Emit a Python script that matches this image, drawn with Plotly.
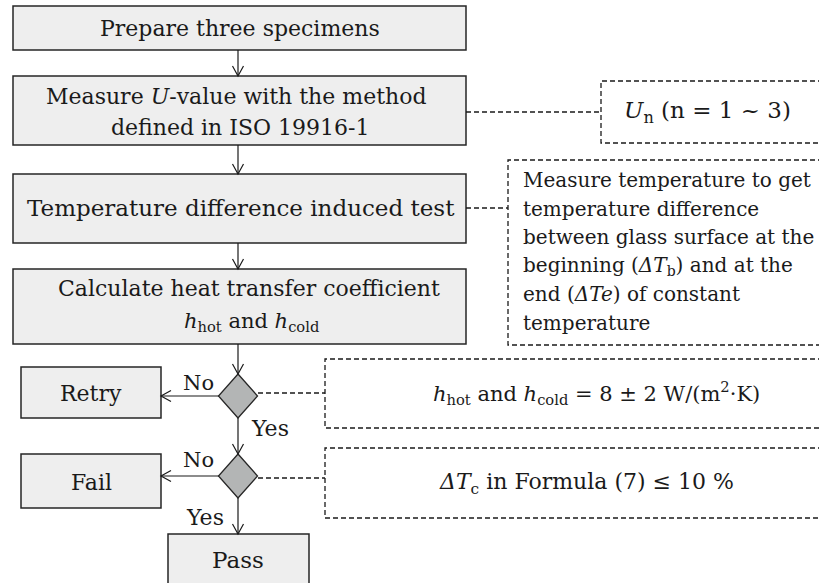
import plotly.graph_objects as go

W, H = 819, 583

# ---- content ----
process_labels = [
    ["Prepare three specimens"],
    ["Measure <i>U</i>-value with the method", "defined in ISO 19916-1"],
    ["Temperature difference induced test"],
    ["Calculate heat transfer coefficient",
     "<i>h</i><sub>hot</sub> and <i>h</i><sub>cold</sub>"],
]
outcome_labels = ["Retry", "Fail", "Pass"]
no_label = "No"
yes_label = "Yes"
note_labels = [
    ["<i>U</i><sub>n</sub> (n = 1 ~ 3)"],
    ["Measure temperature to get",
     "temperature difference",
     "between glass surface at the",
     "beginning (<i>ΔT</i><sub>b</sub>) and at the",
     "end (<i>ΔTe</i>) of constant",
     "temperature"],
    ["<i>h</i><sub>hot</sub> and <i>h</i><sub>cold</sub> = 8 ± 2 W/(m<sup>2</sup>·K)"],
    ["<i>ΔT</i><sub>c</sub> in Formula (7) ≤ 10 %"],
]

# ---- layout geometry (pixels, y downwards) ----
proc_boxes = [(13, 6, 466, 50), (13, 76, 466, 145), (13, 174, 466, 243), (13, 269, 466, 344)]
proc_text_pos = [[(240, 28)], [(236, 96), (240, 127)], [(241, 208)], [(249, 288), (251, 322)]]
proc_sizes = [[22], [22, 22], [23], [22, 21]]
out_boxes = [(21, 367, 161, 418), (21, 454, 161, 508), (168, 534, 309, 600)]
out_text_pos = [(91, 393), (91, 482), (238, 560)]
out_sizes = [22, 22, 23]
diamonds = [(238, 396, 19.5, 22), (238, 476, 19.5, 22)]
note_boxes = [(601, 81, 143), (508, 160, 345), (325, 359, 428), (325, 448, 518)]
note_text = [("center", [(707, 112)], 23),
             ("left", [(521, 180 + 28.6 * i) for i in range(6)], 20),
             ("center", [(596, 393)], 21),
             ("center", [(586, 483)], 22)]
arrows = [((238, 50), (238, 76)), ((238, 145), (238, 174)), ((238, 243), (238, 269)),
          ((238, 344), (238, 374)), ((219, 396), (161, 396)), ((238, 418), (238, 454)),
          ((219, 476), (161, 476)), ((238, 498), (238, 534))]
connectors = [((466, 112), (601, 112)), ((466, 208), (508, 208)),
              ((258, 393), (325, 393)), ((258, 478), (325, 478))]
no_pos = [(198, 383), (198, 460)]
yes_pos = [(270, 428), (205, 517)]

FONT = "DejaVu Serif"
TXT = "#1a1a1a"
EDGE = "#262626"
LINE = "#1a1a1a"
FILL = "#eeeeee"
DFILL = "#b3b5b5"
DASH = "5px,3px"

shapes = []
annotations = []

def rect(b, fill):
    x0, y0, x1, y1 = b
    shapes.append(dict(type="rect", xref="x", yref="y", x0=x0, y0=y0, x1=x1, y1=y1,
                       fillcolor=fill, line=dict(color=EDGE, width=1.5), layer="below"))

def text(x, y, s, size, align="center"):
    annotations.append(dict(x=x, y=y, xref="x", yref="y", text=s, showarrow=False,
                            xanchor=align, yanchor="middle",
                            font=dict(family=FONT, size=size, color=TXT)))

for b in proc_boxes:
    rect(b, FILL)
for lines, poss, sizes in zip(process_labels, proc_text_pos, proc_sizes):
    for s, (x, y), fs in zip(lines, poss, sizes):
        text(x, y, s, fs)

for b in out_boxes:
    rect(b, FILL)
for s, (x, y), fs in zip(outcome_labels, out_text_pos, out_sizes):
    text(x, y, s, fs)

for cx, cy, hw, hh in diamonds:
    path = f"M{cx},{cy-hh} L{cx+hw},{cy} L{cx},{cy+hh} L{cx-hw},{cy} Z"
    shapes.append(dict(type="path", xref="x", yref="y", path=path, fillcolor=DFILL,
                       line=dict(color=EDGE, width=1.3)))

for x0, y0, y1 in note_boxes:
    path = f"M{W+20},{y0} L{x0},{y0} L{x0},{y1} L{W+20},{y1}"
    shapes.append(dict(type="path", xref="x", yref="y", path=path,
                       line=dict(color=LINE, width=1.3, dash=DASH)))
for lines, (al, poss, fs) in zip(note_labels, note_text):
    for s, (x, y) in zip(lines, poss):
        text(x, y, s, fs, align=al)

for (x0, y0), (x1, y1) in connectors:
    shapes.append(dict(type="line", xref="x", yref="y", x0=x0, y0=y0, x1=x1, y1=y1,
                       line=dict(color=LINE, width=1.3, dash=DASH)))

for (x0, y0), (x1, y1) in arrows:
    shapes.append(dict(type="line", xref="x", yref="y", x0=x0, y0=y0, x1=x1, y1=y1,
                       line=dict(color=LINE, width=1.2)))
    dx, dy = x1 - x0, y1 - y0
    L = (dx * dx + dy * dy) ** 0.5
    ux, uy = dx / L, dy / L
    px, py = -uy, ux
    hl, hw = 10, 5.5
    bx, by = x1 - ux * hl, y1 - uy * hl
    path = (f"M{bx + px*hw},{by + py*hw} L{x1},{y1} L{bx - px*hw},{by - py*hw}")
    shapes.append(dict(type="path", xref="x", yref="y", path=path,
                       line=dict(color=LINE, width=1.2)))

for (x, y) in no_pos:
    text(x, y, no_label, 21)
for (x, y) in yes_pos:
    text(x, y, yes_label, 22)

fig = go.Figure()
fig.add_trace(go.Scatter(x=[0, W], y=[0, H], mode="markers", marker=dict(opacity=0),
                         hoverinfo="skip", showlegend=False))
fig.update_layout(
    width=W, height=H, margin=dict(l=0, r=0, t=0, b=0),
    font=dict(family=FONT, size=22, color=TXT),
    paper_bgcolor="white", plot_bgcolor="white",
    xaxis=dict(range=[0, W], visible=False, fixedrange=True),
    yaxis=dict(range=[H, 0], visible=False, fixedrange=True),
    shapes=shapes, annotations=annotations, showlegend=False,
)
fig.write_html("out.html", config={"displayModeBar": False},
               post_script="document.body.style.margin='0px';document.body.style.overflow='hidden';")
